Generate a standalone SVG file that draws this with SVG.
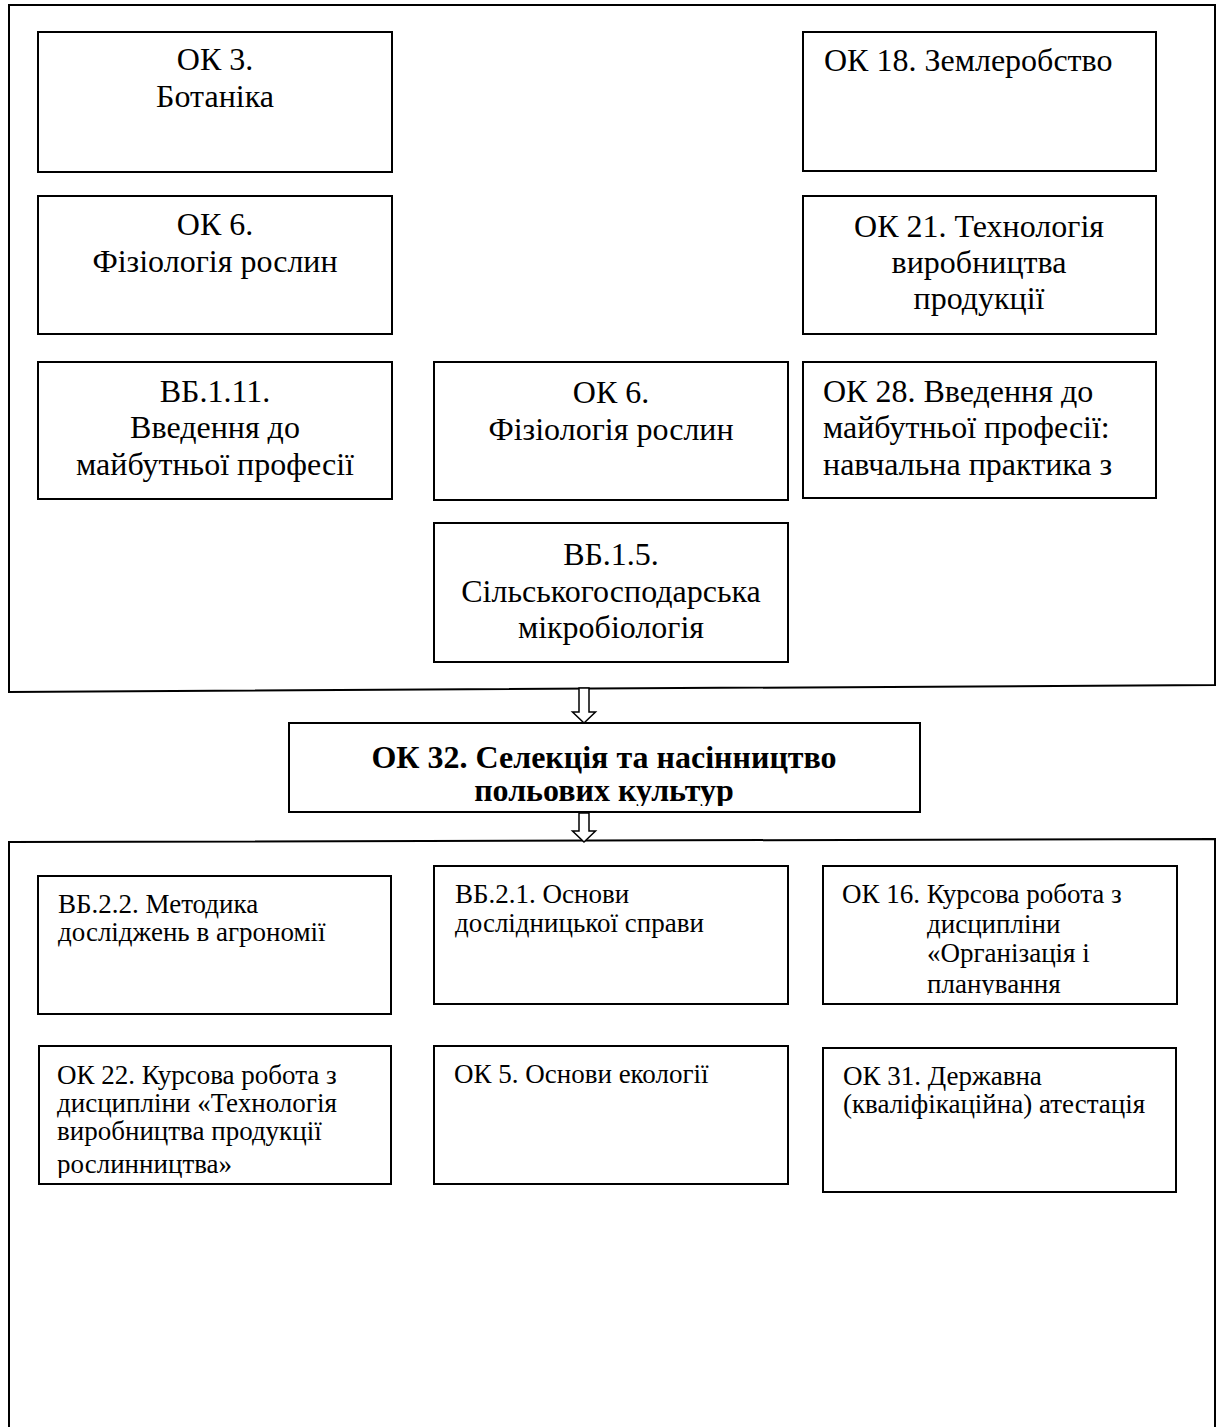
<svg xmlns="http://www.w3.org/2000/svg" width="1219" height="1427" viewBox="0 0 1219 1427">
<style>
.frame{fill:none;stroke:#000;stroke-width:2}
.box{fill:#fff;stroke:#000;stroke-width:2}
.t{font-family:"Liberation Serif","Times New Roman",serif;font-size:32px;fill:#000}
.s{font-family:"Liberation Serif","Times New Roman",serif;font-size:27px;fill:#000}
.b{font-family:"Liberation Serif","Times New Roman",serif;font-size:32px;font-weight:bold;fill:#000}
.c{text-anchor:middle}
.arrow{fill:#fff;stroke:#000;stroke-width:1.5;stroke-linejoin:miter}
</style>
<defs>
<clipPath id="clipMain"><rect x="290" y="724" width="629" height="82"/></clipPath>
<clipPath id="clip16"><rect x="824" y="867" width="352" height="128"/></clipPath>
<clipPath id="clip22"><rect x="40" y="1047" width="350" height="131"/></clipPath>
</defs>
<rect width="1219" height="1427" fill="#fff"/>
<g id="frames">
<path class="frame" d="M9,692 V5 H1215 V685 Z"/>
<path class="frame" d="M9,1430 V842 L1215,839 V1430"/>
</g>
<g id="connectors">
<path class="arrow" d="M579,688 V712 H572.5 L584,723 L595.5,712 H589 V688 Z"/>
<path class="arrow" d="M579,813 V831 H572.5 L584,842 L595.5,831 H589 V813 Z"/>
</g>
<g id="n-ok3">
<rect class="box" x="38" y="32" width="354" height="140"/>
<text class="t c" x="215" y="70">ОК 3.</text>
<text class="t c" x="215" y="107">Ботаніка</text>
</g>
<g id="n-ok18">
<rect class="box" x="803" y="32" width="353" height="139"/>
<text class="t" x="824" y="71">ОК 18. Землеробство</text>
</g>
<g id="n-ok6a">
<rect class="box" x="38" y="196" width="354" height="138"/>
<text class="t c" x="215" y="235">ОК 6.</text>
<text class="t c" x="215" y="272">Фізіологія рослин</text>
</g>
<g id="n-ok21">
<rect class="box" x="803" y="196" width="353" height="138"/>
<text class="t c" x="979" y="237">ОК 21. Технологія</text>
<text class="t c" x="979" y="273">виробництва</text>
<text class="t c" x="979" y="309">продукції</text>
</g>
<g id="n-vb111">
<rect class="box" x="38" y="362" width="354" height="137"/>
<text class="t c" x="215" y="402">ВБ.1.11.</text>
<text class="t c" x="215" y="438">Введення до</text>
<text class="t c" x="215" y="475">майбутньої професії</text>
</g>
<g id="n-ok6b">
<rect class="box" x="434" y="362" width="354" height="138"/>
<text class="t c" x="611" y="403">ОК 6.</text>
<text class="t c" x="611" y="440">Фізіологія рослин</text>
</g>
<g id="n-ok28">
<rect class="box" x="803" y="362" width="353" height="136"/>
<text class="t" x="823" y="402">ОК 28. Введення до</text>
<text class="t" x="823" y="438">майбутньої професії:</text>
<text class="t" x="823" y="475">навчальна практика з</text>
</g>
<g id="n-vb15">
<rect class="box" x="434" y="523" width="354" height="139"/>
<text class="t c" x="611" y="565">ВБ.1.5.</text>
<text class="t c" x="611" y="602">Сільськогосподарська</text>
<text class="t c" x="611" y="638">мікробіологія</text>
</g>
<g id="n-ok32">
<rect class="box" x="289" y="723" width="631" height="89"/>
<g clip-path="url(#clipMain)">
<text class="b c" x="604" y="768">ОК 32. Селекція та насінництво</text>
<text class="b c" x="604" y="801">польових культур</text>
</g>
</g>
<g id="n-vb22">
<rect class="box" x="38" y="876" width="353" height="138"/>
<text class="s" x="58" y="913">ВБ.2.2. Методика</text>
<text class="s" x="58" y="941">досліджень в агрономії</text>
</g>
<g id="n-vb21">
<rect class="box" x="434" y="866" width="354" height="138"/>
<text class="s" x="455" y="903">ВБ.2.1. Основи</text>
<text class="s" x="455" y="932">дослідницької справи</text>
</g>
<g id="n-ok16">
<rect class="box" x="823" y="866" width="354" height="138"/>
<g clip-path="url(#clip16)">
<text class="s" x="842" y="903">ОК 16. Курсова робота з</text>
<text class="s" x="927" y="933">дисципліни</text>
<text class="s" x="927" y="962">«Організація і</text>
<text class="s" x="927" y="993">планування</text>
</g>
</g>
<g id="n-ok22">
<rect class="box" x="39" y="1046" width="352" height="138"/>
<g clip-path="url(#clip22)">
<text class="s" x="57" y="1084">ОК 22. Курсова робота з</text>
<text class="s" x="57" y="1112">дисципліни «Технологія</text>
<text class="s" x="57" y="1140">виробництва продукції</text>
<text class="s" x="57" y="1173">рослинництва»</text>
</g>
</g>
<g id="n-ok5">
<rect class="box" x="434" y="1046" width="354" height="138"/>
<text class="s" x="454" y="1083">ОК 5. Основи екології</text>
</g>
<g id="n-ok31">
<rect class="box" x="823" y="1048" width="353" height="144"/>
<text class="s" x="843" y="1085">ОК 31. Державна</text>
<text class="s" x="843" y="1113">(кваліфікаційна) атестація</text>
</g>
</svg>
